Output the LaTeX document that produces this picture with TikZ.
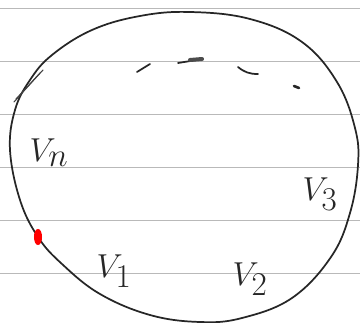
\documentclass[tikz,border=0pt]{standalone}
\usepackage{amsmath,amssymb}
\usepackage{xcolor}
\usepackage{tikz}
\usetikzlibrary{shapes.geometric, positioning}

\tikzset{
  vlabel/.style={inner sep=0pt, font=\fontsize{38}{38}\selectfont, text=black!85},
  pen/.style={line width=1.3pt, black!85, line cap=round}
}

\begin{document}
\begin{tikzpicture}[x=0.75pt, y=-0.75pt]
        \useasboundingbox (0,0) rectangle (360,323);
        \fill[white] (0,0) rectangle (360,323);
        % Ruled lines
        \foreach \y in {8,61,114,167,220,273} {
            \draw[gray!55, line width=0.7pt] (0,\y) -- (360,\y);
        }

        % The closed curve
        \draw[pen] plot[smooth cycle, tension=0.65] coordinates {
            (190,12) (250,19) (302,42) (337,82) (355,128) (358,165)
            (350,213) (331,257) (292,298) (242,318) (200,322) (150,315)
            (100,294) (62,264) (38,237) (20,200) (10,150) (15,110)
            (30,80) (52,55) (92,30) (140,16)};
        % Double stroke at top left
        \draw[black!75, line width=0.8pt, line cap=round] (16,99) -- (43,70);
        \draw[black!75, line width=0.8pt, line cap=round] (14,102) -- (40,73);

        % Dashes along the top
        \draw[pen] (137,72) -- (150,64);
        \draw[pen] (178,63) -- (203,59);
        \draw[black!70, line width=3pt, line cap=round] (190,60) -- (202,59);
        \draw[pen] (238,67) to[bend right=20] (258,74);
        \draw[pen, line width=2pt] (294,86) -- (299,88);

        % Red mark on the curve
        \node[ellipse, draw=red, fill=red, line width=1pt, minimum width=5pt,
              minimum height=11pt, inner sep=0pt] (mark) at (38,237) {};

        % Labels
        \node[vlabel] (vn) at (49,153) {$V_n$};
        \node[vlabel] (v1) at (114,271) {$V_1$};
        \node[vlabel] (v2) at (250,279) {$V_2$};
        \node[vlabel] (v3) at (320,194) {$V_3$};
\end{tikzpicture}
\end{document}
